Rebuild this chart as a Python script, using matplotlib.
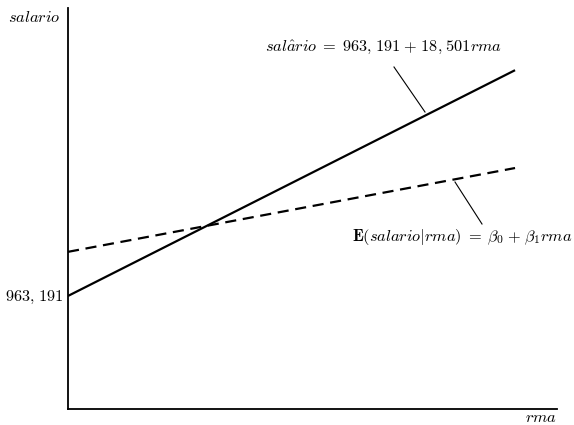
import matplotlib
matplotlib.use("Agg")
import matplotlib.pyplot as plt

plt.rcParams["mathtext.fontset"] = "cm"
plt.rcParams["font.family"] = "serif"
plt.rcParams["font.serif"] = ["DejaVu Serif"]

# Schematic lines (normalized units): rma from 0 to 1
x_rma = [0.0, 1.0]
y_fitted = [0.282, 0.845]      # salario-hat = 963,191 + 18,501 rma
y_expected = [0.392, 0.601]    # E(salario|rma) = b0 + b1 rma
intercept_label = r"$963{,}\;191$"

fig = plt.figure(figsize=(5.74, 4.25), dpi=100)
ax = fig.add_axes([0.1185, 0.0376, 0.852, 0.9435])
ax.set_xlim(0, 1.094)
ax.set_ylim(0, 1)

ax.plot(x_rma, y_fitted, color="black", linewidth=1.6, solid_capstyle="butt")
ax.plot(x_rma, y_expected, color="black", linewidth=1.6, linestyle=(0, (5, 3)))

for side in ["top", "right"]:
    ax.spines[side].set_visible(False)
for side in ["left", "bottom"]:
    ax.spines[side].set_linewidth(1.3)
ax.set_xticks([])
ax.set_yticks([])

fs = 11.8
fig.text(63 / 574, 1 - 297 / 425, intercept_label, ha="right", va="center", fontsize=fs)
fig.text(8 / 574, 1 - 17 / 425, r"$salario$", ha="left", va="center", fontsize=fs)
fig.text(557 / 574, 1 - 422 / 425, r"$rma$", ha="right", va="baseline", fontsize=fs)

# annotations with leader lines
def to_data(px, py):
    return ax.transData.inverted().transform(fig.transFigure.transform((px / 574, 1 - py / 425)))

p1, q1 = to_data(394, 67), to_data(425, 112)
ax.plot([p1[0], q1[0]], [p1[1], q1[1]], color="black", linewidth=0.8)
fig.text(265 / 574, 1 - 47 / 425,
         r"$sal\hat{a}rio\;{=}\;963{,}\;191\;{+}\;18{,}\;501rma$",
         ha="left", va="center", fontsize=fs)

p2, q2 = to_data(455, 182), to_data(482, 224)
ax.plot([p2[0], q2[0]], [p2[1], q2[1]], color="black", linewidth=0.8)
fig.text(572 / 574, 1 - 237 / 425,
         r"$\mathbf{E}(salario|rma)\;{=}\;\beta_0\;{+}\;\beta_1 rma$",
         ha="right", va="center", fontsize=fs)

fig.savefig("out.png", dpi=100)
